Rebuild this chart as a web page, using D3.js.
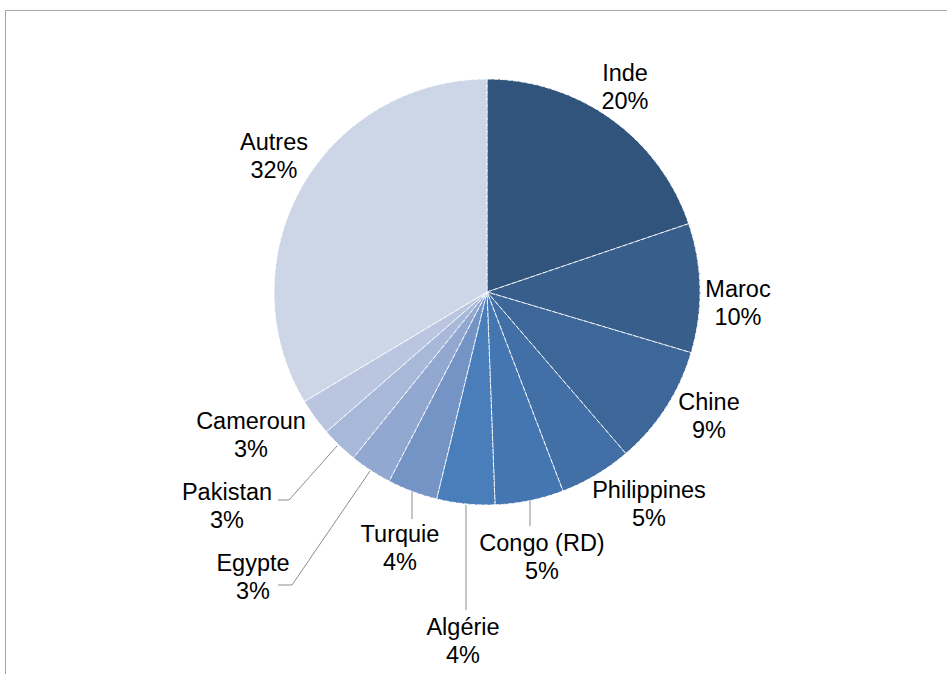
<!DOCTYPE html>
<meta charset="utf-8">
<script src="https://d3js.org/d3.v7.min.js"></script>
<style>
  body { margin: 0; background: #fff; }
  text { font-family: "Liberation Sans", Arial, sans-serif; font-size: 23.5px; fill: #000; }
</style>
<body>
<div id="chart"></div>
<script>
  // slice shares; labels as printed on it
  var countries = ["Inde", "Maroc", "Chine", "Philippines", "Congo (RD)", "Algérie", "Turquie", "Egypte", "Pakistan", "Cameroun", "Autres"];
  var shares = [19.8, 9.8, 9.1, 5.5, 5.2, 4.4, 3.8, 3.2, 2.8, 2.8, 33.6];
  var pctLabels = ["20%", "10%", "9%", "5%", "5%", "4%", "4%", "3%", "3%", "3%", "32%"];
  var colors = ["#30547c", "#385e8c", "#3d6799", "#4270a6", "#4477b1", "#4a7ebb", "#7594c6", "#93a8d0", "#a8b8d9", "#bac6e0", "#cdd6e7"];

  // label centre (first line baseline) and optional leader line for each slice
  var labelPos = [[625, 81], [738, 297], [709, 410], [649, 498], [542, 551], [463, 635], [400, 542], [253, 571], [227, 500], [251, 429], [274, 150]];
  var leaders = {
    "Congo (RD)": [[530, 500], [530, 526]],
    "Algérie": [[466, 505], [466, 610]],
    "Turquie": [[412, 492], [412, 519]],
    "Egypte": [[370, 471], [292, 585], [278, 585]],
    "Pakistan": [[337, 446], [289, 500], [278, 500]]
  };

  var width = 947, height = 674;
  var cx = 487, cy = 292, r = 213;

  var svg = d3.select("#chart").append("svg")
    .attr("width", width)
    .attr("height", height);

  // frame (only top and left visible)
  svg.append("path")
    .attr("d", "M5.5," + height + "V10.5H" + width)
    .attr("fill", "none")
    .attr("stroke", "#a6a6a6")
    .attr("stroke-width", 1);

  var data = countries.map(function (c, i) { return { name: c, value: shares[i], pct: pctLabels[i], color: colors[i] }; });

  var pie = d3.pie().sort(null).value(function (d) { return d.value; });
  var arc = d3.arc().innerRadius(0).outerRadius(r);

  var g = svg.append("g").attr("transform", "translate(" + cx + "," + cy + ")");

  g.selectAll("path.slice")
    .data(pie(data))
    .enter().append("path")
    .attr("class", "slice")
    .attr("d", arc)
    .attr("fill", function (d) { return d.data.color; })
    .attr("stroke", "#ffffff")
    .attr("stroke-width", 0.9)
    .attr("stroke-dasharray", "5,1.5");

  // leader lines
  var line = d3.line();
  Object.keys(leaders).forEach(function (k) {
    svg.append("path")
      .attr("d", line(leaders[k]))
      .attr("fill", "none")
      .attr("stroke", "#8c8c8c")
      .attr("stroke-width", 1);
  });

  var labels = svg.selectAll("text.lbl")
    .data(data)
    .enter().append("text")
    .attr("class", "lbl")
    .attr("text-anchor", "middle")
    .attr("x", function (d, i) { return labelPos[i][0]; })
    .attr("y", function (d, i) { return labelPos[i][1]; });

  labels.append("tspan")
    .attr("x", function (d, i) { return labelPos[i][0]; })
    .text(function (d) { return d.name; });
  labels.append("tspan")
    .attr("x", function (d, i) { return labelPos[i][0]; })
    .attr("dy", 28)
    .text(function (d) { return d.pct; });
</script>
</body>
